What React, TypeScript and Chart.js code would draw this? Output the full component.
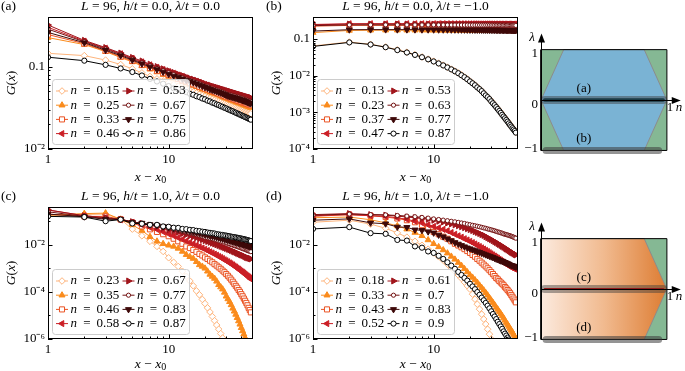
import React, { useEffect, useRef } from 'react';
import { Chart, registerables } from 'chart.js';

Chart.register(...registerables);

const FONT = 'Liberation Serif';

// ---------- data ----------
const XPOS = [1,2,3,4,5,6,7,8,9,10,11,12,13,14,15,16,17,18,19,20,21,22,23,24,25,26,27,28,29,30,31,32,33,34,35,36,37,38,39,40,41,42,43,44,45,46,47,48];

const N_A = [0.15, 0.25, 0.33, 0.46, 0.53, 0.67, 0.75, 0.86];
const N_B = [0.13, 0.23, 0.37, 0.47, 0.53, 0.63, 0.77, 0.87];
const N_C = [0.23, 0.35, 0.46, 0.58, 0.67, 0.77, 0.83, 0.87];
const N_D = [0.18, 0.33, 0.43, 0.52, 0.61, 0.7, 0.83, 0.9];

// panel (a)  h/t = 0, lambda/t = 0
const GA_015 = [0.145,0.136,0.120,0.106,0.094,0.084,0.076,0.071,0.067,0.064,0.061,0.058,0.055,0.053,0.051,0.0495,0.048,0.0463,0.0447,0.0433,0.042,0.041,0.040,0.039,0.0382,0.0374,0.0366,0.0359,0.0352,0.0345,0.0339,0.0333,0.0327,0.0322,0.0317,0.0312,0.0307,0.0302,0.0298,0.0294,0.029,0.0286,0.0283,0.028,0.0277,0.0274,0.0271,0.0268];
const GA_025 = [0.225,0.185,0.152,0.129,0.114,0.102,0.093,0.086,0.080,0.076,0.072,0.069,0.066,0.063,0.061,0.059,0.057,0.055,0.053,0.052,0.0505,0.049,0.048,0.047,0.046,0.045,0.044,0.043,0.042,0.0413,0.0406,0.0399,0.0392,0.0386,0.038,0.0374,0.0368,0.0363,0.0358,0.0353,0.0348,0.0343,0.0338,0.0334,0.033,0.0326,0.0322,0.0318];
const GA_033 = [0.245,0.190,0.155,0.132,0.117,0.105,0.096,0.089,0.083,0.079,0.075,0.071,0.068,0.066,0.063,0.061,0.059,0.057,0.056,0.054,0.053,0.0515,0.0503,0.0492,0.048,0.047,0.046,0.045,0.044,0.0433,0.0426,0.0419,0.0412,0.0406,0.040,0.0394,0.0389,0.0384,0.0379,0.0374,0.0369,0.0364,0.036,0.0356,0.0352,0.0348,0.0344,0.034];
const GA_046 = [0.300,0.204,0.167,0.143,0.126,0.114,0.105,0.098,0.092,0.087,0.083,0.079,0.076,0.073,0.070,0.068,0.066,0.064,0.062,0.060,0.059,0.057,0.056,0.055,0.054,0.053,0.052,0.051,0.050,0.049,0.0485,0.048,0.047,0.0465,0.046,0.0455,0.045,0.0445,0.044,0.0435,0.043,0.0425,0.042,0.0415,0.041,0.0405,0.040,0.0398];
const GA_053 = [0.320,0.208,0.170,0.146,0.129,0.117,0.107,0.100,0.094,0.089,0.085,0.081,0.078,0.075,0.072,0.070,0.068,0.066,0.064,0.062,0.0607,0.0594,0.0582,0.0571,0.056,0.055,0.0541,0.0532,0.0524,0.0516,0.0508,0.0501,0.0494,0.0487,0.0481,0.0475,0.0469,0.0463,0.0458,0.0453,0.0448,0.0443,0.0438,0.0434,0.043,0.0426,0.0422,0.0418];
const GA_067 = [0.285,0.200,0.163,0.140,0.123,0.111,0.102,0.095,0.089,0.084,0.080,0.076,0.073,0.070,0.068,0.066,0.064,0.062,0.060,0.058,0.057,0.055,0.054,0.053,0.052,0.051,0.050,0.049,0.048,0.047,0.046,0.0455,0.045,0.0445,0.044,0.0435,0.043,0.0425,0.042,0.0415,0.041,0.0405,0.040,0.0395,0.039,0.0385,0.038,0.0378];
const GA_075 = [0.260,0.195,0.158,0.136,0.120,0.108,0.099,0.092,0.086,0.081,0.077,0.074,0.071,0.068,0.066,0.064,0.062,0.060,0.058,0.056,0.055,0.053,0.052,0.051,0.050,0.049,0.048,0.047,0.046,0.045,0.044,0.0435,0.043,0.0425,0.042,0.0415,0.041,0.0405,0.040,0.0395,0.039,0.0385,0.038,0.0375,0.037,0.0365,0.036,0.0358];
const GA_086 = [0.130,0.118,0.105,0.095,0.086,0.078,0.071,0.066,0.062,0.058,0.0545,0.053,0.0505,0.049,0.0468,0.0455,0.0437,0.0426,0.041,0.0401,0.0386,0.0378,0.0365,0.0358,0.0347,0.0341,0.0331,0.0325,0.0316,0.0311,0.0303,0.0298,0.0291,0.0287,0.028,0.0276,0.027,0.0266,0.0261,0.0257,0.0252,0.0249,0.0244,0.0241,0.0237,0.0234,0.023,0.0227];

// panel (b)  h/t = 0, lambda/t = -1
const GB_013 = [0.065,0.083,0.072,0.061,0.051,0.0437,0.0376,0.0325,0.0284,0.0249,0.0219,0.0194,0.0171,0.0151,0.0134,0.0119,0.0105,0.0092,0.0081,0.0071,0.0063,0.0056,0.0049,0.00436,0.00386,0.00335,0.00295,0.00264,0.00234,0.00203,0.0018,0.0016,0.00141,0.00125,0.00111,0.00099,0.00087,0.00078,0.0007,0.00063,0.00057,0.00051,0.000457,0.000416,0.000376,0.000345,0.000315,0.000285];
const GB_023 = [0.150,0.172,0.174,0.175,0.1749,0.1746,0.1745,0.1742,0.1741,0.1738,0.1737,0.1735,0.1733,0.1732,0.1729,0.1728,0.1726,0.1725,0.1722,0.1721,0.1719,0.1717,0.1716,0.1713,0.1712,0.171,0.1709,0.1706,0.1705,0.1703,0.1701,0.17,0.1698,0.1696,0.1695,0.1692,0.1691,0.1689,0.1688,0.1685,0.1684,0.1682,0.1681,0.1678,0.1677,0.1675,0.1674,0.1672];
const GB_037 = [0.225,0.236,0.237,0.237,0.2369,0.2366,0.2365,0.2362,0.2361,0.2358,0.2357,0.2354,0.2353,0.235,0.2349,0.2346,0.2345,0.2342,0.2341,0.2338,0.2337,0.2334,0.2333,0.233,0.2329,0.2326,0.2325,0.2322,0.2321,0.2318,0.2317,0.2314,0.2313,0.231,0.2309,0.2306,0.2305,0.2302,0.2301,0.2298,0.2297,0.2294,0.2293,0.229,0.2289,0.2286,0.2285,0.2282];
const GB_047 = [0.250,0.262,0.263,0.263,0.2629,0.2626,0.2625,0.2622,0.2621,0.2618,0.2617,0.2614,0.2613,0.261,0.2609,0.2606,0.2605,0.2602,0.2601,0.2598,0.2597,0.2594,0.2593,0.259,0.2589,0.2586,0.2585,0.2582,0.2581,0.2578,0.2577,0.2574,0.2573,0.257,0.2569,0.2566,0.2565,0.2562,0.2561,0.2558,0.2557,0.2554,0.2553,0.255,0.2549,0.2546,0.2545,0.2542];
const GB_053 = [0.245,0.256,0.257,0.257,0.2569,0.2566,0.2565,0.2562,0.2561,0.2558,0.2557,0.2554,0.2553,0.255,0.2549,0.2546,0.2545,0.2542,0.2541,0.2538,0.2537,0.2534,0.2533,0.253,0.2529,0.2526,0.2525,0.2522,0.2521,0.2518,0.2517,0.2514,0.2513,0.251,0.2509,0.2506,0.2505,0.2502,0.2501,0.2498,0.2497,0.2494,0.2493,0.249,0.2489,0.2486,0.2485,0.2482];
const GB_063 = [0.232,0.243,0.244,0.244,0.2439,0.2436,0.2435,0.2432,0.2431,0.2428,0.2427,0.2424,0.2423,0.242,0.2419,0.2416,0.2415,0.2412,0.2411,0.2408,0.2407,0.2404,0.2403,0.24,0.2399,0.2396,0.2395,0.2392,0.2391,0.2388,0.2387,0.2384,0.2383,0.238,0.2379,0.2376,0.2375,0.2372,0.2371,0.2368,0.2367,0.2364,0.2363,0.236,0.2359,0.2356,0.2355,0.2352];
const GB_077 = [0.165,0.180,0.181,0.181,0.1809,0.1806,0.1805,0.1802,0.1801,0.1798,0.1797,0.1794,0.1793,0.179,0.1789,0.1786,0.1785,0.1782,0.1781,0.1778,0.1777,0.1774,0.1773,0.177,0.1769,0.1766,0.1765,0.1762,0.1761,0.1758,0.1757,0.1754,0.1753,0.175,0.1749,0.1746,0.1745,0.1742,0.1741,0.1738,0.1737,0.1734,0.1733,0.173,0.1729,0.1726,0.1725,0.1722];
const GB_087 = [0.063,0.081,0.071,0.060,0.050,0.043,0.037,0.032,0.028,0.0245,0.0216,0.0191,0.0168,0.0149,0.0132,0.0117,0.0103,0.0091,0.0080,0.0070,0.0062,0.0055,0.0048,0.0043,0.0038,0.0033,0.0029,0.0026,0.0023,0.0020,0.00177,0.00157,0.00139,0.00123,0.00109,0.00097,0.00086,0.00077,0.00069,0.00062,0.00056,0.00050,0.00045,0.00041,0.00037,0.00034,0.00031,0.00028];

// panel (c)  h/t = 1, lambda/t = 0
const GC_023 = [0.17,0.19,0.20,0.12,0.046,0.024,0.014,0.0085,0.0052,0.0028,0.0018,0.0012,0.00075,0.00046,0.00029,0.00018,0.00011,7.5e-5,4.8e-5,3.2e-5,2.1e-5,1.4e-5,9e-6,6e-6,3.9e-6,2.6e-6,1.7e-6,1.1e-6,7.2e-7,4.7e-7,3e-7];
const GC_035 = [0.18,0.21,0.22,0.12,0.07,0.04,0.022,0.014,0.011,0.0095,0.0085,0.007,0.0052,0.0038,0.0031,0.0026,0.0019,0.0014,0.0012,0.001,0.00075,0.00055,0.00045,0.00037,0.00028,0.0002,0.00016,0.00013,9.5e-5,6.5e-5,5e-5,3.8e-5,2.8e-5,2e-5,1.5e-5,1.1e-5,8e-6,5.8e-6,4.2e-6,3e-6,2.2e-6,1.6e-6,1.15e-6,8.3e-7,6e-7,4.3e-7];
const GC_046 = [0.20,0.16,0.16,0.12,0.085,0.06,0.045,0.035,0.028,0.023,0.018,0.014,0.011,0.0085,0.0072,0.006,0.005,0.0041,0.0035,0.0029,0.0025,0.0021,0.0018,0.0015,0.0013,0.0011,0.00095,0.0008,0.00068,0.00057,0.00048,0.0004,0.00033,0.00027,0.00022,0.00018,0.00015,0.00012,0.0001,8e-5,6.5e-5,5.2e-5,4.2e-5,3.4e-5,2.7e-5,2.1e-5,1.7e-5,1.35e-5];
const GC_058 = [0.30,0.17,0.14,0.115,0.09,0.07,0.055,0.045,0.036,0.029,0.024,0.02,0.017,0.0145,0.0125,0.011,0.0095,0.0083,0.0073,0.0064,0.0057,0.005,0.0045,0.004,0.0036,0.0032,0.0029,0.0026,0.0023,0.0021,0.0019,0.0017,0.00155,0.0014,0.00126,0.00114,0.00103,0.00093,0.00084,0.00076,0.00069,0.00063,0.00057,0.00052,0.00047,0.00043,0.00039,0.00035];
const GC_067 = [0.30,0.17,0.14,0.12,0.095,0.08,0.068,0.058,0.05,0.043,0.038,0.034,0.030,0.027,0.024,0.022,0.020,0.018,0.0165,0.015,0.0138,0.0127,0.0117,0.0108,0.010,0.0093,0.0086,0.008,0.0075,0.007,0.0065,0.0061,0.0057,0.0053,0.005,0.0047,0.0044,0.0041,0.0039,0.0037,0.0035,0.0033,0.0031,0.0029,0.0028,0.0027,0.0026,0.0025];
const GC_077 = [0.25,0.16,0.13,0.12,0.092,0.082,0.07,0.064,0.056,0.05,0.045,0.041,0.037,0.034,0.031,0.029,0.027,0.025,0.023,0.021,0.020,0.019,0.018,0.017,0.016,0.015,0.0142,0.0135,0.0128,0.012,0.0114,0.0108,0.0102,0.0097,0.0092,0.0088,0.0084,0.008,0.0076,0.0072,0.0069,0.0066,0.0063,0.006,0.0057,0.0055,0.0053,0.0051];
const GC_083 = [0.20,0.155,0.12,0.12,0.09,0.083,0.072,0.068,0.06,0.055,0.05,0.047,0.043,0.04,0.037,0.035,0.033,0.031,0.029,0.027,0.026,0.0245,0.0232,0.022,0.021,0.020,0.019,0.0182,0.0174,0.0166,0.0158,0.0151,0.0145,0.0139,0.0133,0.0128,0.0123,0.0118,0.0114,0.011,0.0106,0.0102,0.0098,0.0095,0.0092,0.0089,0.0086,0.0083];
const GC_087 = [0.16,0.15,0.10,0.117,0.08,0.078,0.07,0.07,0.06,0.058,0.053,0.052,0.047,0.046,0.043,0.042,0.039,0.038,0.036,0.035,0.033,0.032,0.031,0.030,0.028,0.0275,0.0265,0.026,0.025,0.0245,0.0235,0.023,0.022,0.0215,0.021,0.0205,0.0198,0.0193,0.0187,0.0183,0.0177,0.0173,0.0167,0.0163,0.0157,0.0153,0.0147,0.0143];

// panel (d)  h/t = 1, lambda/t = -1
const GD_018 = [0.09,0.11,0.075,0.05,0.032,0.021,0.014,0.0095,0.0065,0.0045,0.0031,0.0022,0.0015,0.00105,0.00074,0.00052,0.00037,0.00026,0.00018,0.00013,8e-5,4.9e-5,3e-5,1.85e-5,1.13e-5,7e-6,4.3e-6,2.6e-6,1.6e-6,1e-6,6e-7,3.7e-7];
const GD_033 = [0.14,0.15,0.115,0.085,0.063,0.046,0.033,0.024,0.016,0.011,0.0081,0.006,0.0044,0.0032,0.0024,0.00175,0.0013,0.00095,0.0007,0.00052,0.00041,0.00032,0.00025,0.00019,0.00015,0.000118,9.2e-5,7.2e-5,5.6e-5,4.4e-5,3.5e-5,2.8e-5,2.2e-5,1.8e-5,1.45e-5,1.17e-5,9.5e-6,7.7e-6,6.2e-6,5e-6,4.1e-6,3.4e-6,2.8e-6,2.3e-6,1.9e-6,1.55e-6,1.25e-6,1e-6];
const GD_043 = [0.16,0.19,0.17,0.15,0.13,0.11,0.09,0.068,0.05,0.035,0.028,0.022,0.018,0.014,0.011,0.0093,0.0078,0.0065,0.0054,0.0045,0.0037,0.0031,0.0025,0.0021,0.00174,0.00144,0.0012,0.001,0.00083,0.00069,0.00057,0.00047,0.00039,0.00034,0.00029,0.00025,0.00022,0.00019,0.00016,0.00014,0.00012,0.000103,8.8e-5,7.4e-5,6.2e-5,5.2e-5,4.3e-5,3.6e-5];
const GD_052 = [0.17,0.19,0.17,0.16,0.14,0.12,0.10,0.085,0.07,0.06,0.052,0.045,0.039,0.033,0.028,0.024,0.021,0.018,0.016,0.014,0.0123,0.0108,0.0095,0.0084,0.0074,0.0066,0.0058,0.0052,0.0046,0.0041,0.0037,0.0033,0.003,0.0027,0.0024,0.0022,0.002,0.0018,0.0016,0.0015,0.0014,0.0013,0.0012,0.0011,0.00105,0.001,0.00095,0.0009];
const GD_061 = [0.19,0.21,0.19,0.18,0.165,0.15,0.14,0.13,0.12,0.11,0.10,0.092,0.084,0.077,0.07,0.064,0.058,0.053,0.048,0.044,0.04,0.036,0.033,0.03,0.027,0.025,0.022,0.02,0.018,0.0165,0.015,0.0136,0.0124,0.0113,0.0103,0.0094,0.0086,0.0079,0.0072,0.0066,0.0061,0.0056,0.0052,0.0048,0.0045,0.0042,0.0039,0.0037];
const GD_070 = [0.18,0.20,0.19,0.185,0.175,0.165,0.155,0.145,0.135,0.125,0.118,0.111,0.105,0.099,0.094,0.089,0.084,0.08,0.075,0.071,0.067,0.064,0.061,0.058,0.055,0.052,0.05,0.047,0.045,0.043,0.041,0.039,0.037,0.035,0.034,0.032,0.031,0.029,0.028,0.027,0.026,0.025,0.024,0.023,0.022,0.021,0.02,0.019];
const GD_083 = [0.11,0.125,0.085,0.078,0.057,0.055,0.043,0.041,0.036,0.032,0.026,0.022,0.018,0.015,0.0125,0.0108,0.0094,0.0083,0.0074,0.0068,0.0062,0.0057,0.0052,0.0048,0.0044,0.0041,0.0038,0.0035,0.0033,0.0031,0.0029,0.0027,0.0025,0.0024,0.0022,0.0021,0.002,0.0019,0.0018,0.0017,0.0016,0.0015,0.0014,0.00135,0.0013,0.00125,0.0012,0.00115];
const GD_090 = [0.047,0.056,0.031,0.029,0.016,0.015,0.0085,0.0075,0.0052,0.0045,0.0034,0.0025,0.0018,0.0013,0.00095,0.0007,0.00052,0.00039,0.0003,0.00022,0.00017,0.00013,9.8e-5,7.5e-5,5.7e-5,4.4e-5,3.4e-5,2.6e-5,2e-5,1.5e-5,1.15e-5,9e-6,7e-6,5.4e-6,4.3e-6,3.4e-6,2.7e-6,2.1e-6,1.7e-6,1.4e-6,1.15e-6,9.5e-7,8e-7,6.6e-7];

// axis ticks
const X_TICKS = [1, 10];
const X_LABELS = ['1', '10'];
const X_MINOR = [2, 3, 4, 5, 6, 7, 8, 9, 20, 30, 40];
const Y_TICKS_A = [0.01, 0.1];
const Y_LABELS_A = ['10⁻²', '0.1'];
const Y_MINOR_A = [0.02, 0.03, 0.04, 0.05, 0.06, 0.07, 0.08, 0.09, 0.2, 0.3];
const Y_TICKS_B = [1e-4, 1e-3, 1e-2, 0.1];
const Y_LABELS_B = ['10⁻⁴', '10⁻³', '10⁻²', '0.1'];
const Y_MINOR_B = [2e-4, 3e-4, 4e-4, 5e-4, 6e-4, 7e-4, 8e-4, 9e-4, 2e-3, 3e-3, 4e-3, 5e-3, 6e-3, 7e-3, 8e-3, 9e-3, 0.02, 0.03, 0.04, 0.05, 0.06, 0.07, 0.08, 0.09, 0.2, 0.3];
const Y_TICKS_CD = [1e-6, 1e-4, 1e-2];
const Y_LABELS_CD = ['10⁻⁶', '10⁻⁴', '10⁻²'];
const Y_MINOR_CD = [1e-5, 1e-3, 0.1];

// phase diagrams
const HEX_N = [0, 0.18, 0.82, 1];
const HEX_UP = [0, 1, 1, 0];
const HEX_DN = [0, -1, -1, 0];
const ORG_N = [0, 0.82, 1];
const ORG_UP = [1, 1, 0];
const ORG_DN = [-1, -1, 0];
const BOX_N = [0, 1, 1, 0, 0];
const BOX_L = [-1, -1, 1, 1, -1];
const CUT_TOP_N = [0.03, 0.97];
const CUT_LOW_N = [0.04, 0.935];

// ---------- styles ----------
const COLORS = ['#fdb47c', '#fa8b1c', '#ea5222', '#cb1f26', '#a0151b', '#731313', '#3e0909', '#000000'];
const MK_STYLE = ['rectRot', 'triangle', 'rect', 'triangle', 'triangle', 'circle', 'triangle', 'circle'];
const MK_ROT = [0, 0, 0, -90, 90, 0, 180, 0];
const MK_FILL = [false, true, false, true, true, false, true, false];
const MK_R = [3.3, 3.5, 3.6, 3.5, 3.5, 2.1, 3.5, 2.6];

type Seg = [string, number];

function drawRich(ctx: any, segs: Seg[], x: number, y: number, size: number, align: string) {
  const fontFor = (k: number) =>
    k === 1 ? `italic ${size}px "${FONT}"` : k === 2 ? `${Math.round(size * 0.72)}px "${FONT}"` : `${size}px "${FONT}"`;
  let total = 0;
  for (const [t, k] of segs) { ctx.font = fontFor(k); total += ctx.measureText(t).width; }
  let cx = align === 'center' ? x - total / 2 : align === 'right' ? x - total : x;
  ctx.textBaseline = 'middle';
  ctx.textAlign = 'left';
  for (const [t, k] of segs) {
    ctx.font = fontFor(k);
    ctx.fillText(t, cx, k === 2 ? y + size * 0.28 : y);
    cx += ctx.measureText(t).width;
  }
}

function drawMarker(ctx: any, style: string, x: number, y: number, r: number, rotDeg: number, filled: boolean, color: string) {
  ctx.beginPath();
  if (style === 'circle') ctx.arc(x, y, r, 0, Math.PI * 2);
  else if (style === 'rect') { const s = r * Math.SQRT1_2; ctx.rect(x - s, y - s, 2 * s, 2 * s); }
  else if (style === 'rectRot') { ctx.moveTo(x - r, y); ctx.lineTo(x, y - r); ctx.lineTo(x + r, y); ctx.lineTo(x, y + r); ctx.closePath(); }
  else {
    let a = (rotDeg * Math.PI) / 180;
    ctx.moveTo(x + Math.sin(a) * r, y - Math.cos(a) * r);
    a += (2 * Math.PI) / 3;
    ctx.lineTo(x + Math.sin(a) * r, y - Math.cos(a) * r);
    a += (2 * Math.PI) / 3;
    ctx.lineTo(x + Math.sin(a) * r, y - Math.cos(a) * r);
    ctx.closePath();
  }
  ctx.fillStyle = filled ? color : '#ffffff';
  ctx.fill();
  ctx.strokeStyle = color;
  ctx.lineWidth = 1;
  ctx.stroke();
}

function roundRect(ctx: any, x: number, y: number, w: number, h: number, r: number) {
  ctx.beginPath();
  ctx.moveTo(x + r, y);
  ctx.lineTo(x + w - r, y);
  ctx.arcTo(x + w, y, x + w, y + r, r);
  ctx.lineTo(x + w, y + h - r);
  ctx.arcTo(x + w, y + h, x + w - r, y + h, r);
  ctx.lineTo(x + r, y + h);
  ctx.arcTo(x, y + h, x, y + h - r, r);
  ctx.lineTo(x, y + r);
  ctx.arcTo(x, y, x + r, y, r);
  ctx.closePath();
}

type PanelDef = {
  letter: string; hval: string; lval: string; ns: number[]; series: number[][];
  yMin: number; yMax: number; yTicks: number[]; yLabels: string[]; yMinor: number[];
  left: number; top: number; height: number; xAxisH: number; xTitleOff: number;
};

const PANELS: PanelDef[] = [
  { letter: '(a)', hval: '0.0', lval: '0.0', ns: N_A, series: [GA_015, GA_025, GA_033, GA_046, GA_053, GA_067, GA_075, GA_086],
    yMin: 0.01, yMax: 0.4, yTicks: Y_TICKS_A, yLabels: Y_LABELS_A, yMinor: Y_MINOR_A, left: 0, top: 0, height: 186, xAxisH: 37, xTitleOff: 28 },
  { letter: '(b)', hval: '0.0', lval: '−1.0', ns: N_B, series: [GB_013, GB_023, GB_037, GB_047, GB_053, GB_063, GB_077, GB_087],
    yMin: 1e-4, yMax: 0.4, yTicks: Y_TICKS_B, yLabels: Y_LABELS_B, yMinor: Y_MINOR_B, left: 265, top: 0, height: 186, xAxisH: 37, xTitleOff: 28 },
  { letter: '(c)', hval: '1.0', lval: '0.0', ns: N_C, series: [GC_023, GC_035, GC_046, GC_058, GC_067, GC_077, GC_083, GC_087],
    yMin: 1e-6, yMax: 0.4, yTicks: Y_TICKS_CD, yLabels: Y_LABELS_CD, yMinor: Y_MINOR_CD, left: 0, top: 190, height: 181, xAxisH: 32, xTitleOff: 25 },
  { letter: '(d)', hval: '1.0', lval: '−1.0', ns: N_D, series: [GD_018, GD_033, GD_043, GD_052, GD_061, GD_070, GD_083, GD_090],
    yMin: 1e-6, yMax: 0.4, yTicks: Y_TICKS_CD, yLabels: Y_LABELS_CD, yMinor: Y_MINOR_CD, left: 265, top: 190, height: 181, xAxisH: 32, xTitleOff: 25 },
];

function panelConfig(p: PanelDef): any {
  const deco = {
    id: 'panelDeco',
    afterDatasetsDraw(chart: any) {
      const { ctx, chartArea: a } = chart;
      ctx.save();
      const bw = 137, bh = 65;
      const bx = a.left + 4.5, by = a.bottom - 4.5 - bh;
      roundRect(ctx, bx, by, bw, bh, 3);
      ctx.fillStyle = 'rgba(255,255,255,0.82)';
      ctx.fill();
      ctx.strokeStyle = '#cccccc';
      ctx.lineWidth = 1;
      ctx.stroke();
      for (let i = 0; i < 8; i++) {
        const col = Math.floor(i / 4), row = i % 4;
        const cy = by + 11.5 + row * 14.2;
        const mx = bx + (col ? 76 : 9.5);
        const tx = bx + (col ? 84.5 : 18);
        ctx.strokeStyle = COLORS[i];
        ctx.lineWidth = 1;
        ctx.beginPath();
        ctx.moveTo(mx - 6, cy);
        ctx.lineTo(mx + 6, cy);
        ctx.stroke();
        drawMarker(ctx, MK_STYLE[i], mx, cy, MK_R[i], MK_ROT[i], MK_FILL[i], COLORS[i]);
        ctx.fillStyle = '#000';
        drawRich(ctx, [['n', 1]], tx, cy, 13, 'left');
        drawRich(ctx, [['=', 0]], tx + 16.5, cy, 13, 'center');
        drawRich(ctx, [[String(p.ns[i]), 0]], tx + 26, cy, 13, 'left');
      }
      ctx.restore();
    },
    afterDraw(chart: any) {
      const { ctx, chartArea: a, scales } = chart;
      const xs = scales.x, ys = scales.y;
      ctx.save();
      ctx.strokeStyle = '#000';
      ctx.lineWidth = 1;
      ctx.beginPath();
      for (const v of X_TICKS) { const px = Math.round(xs.getPixelForValue(v)) + 0.5; ctx.moveTo(px, a.bottom); ctx.lineTo(px, a.bottom - 4.5); }
      for (const v of X_MINOR) { const px = Math.round(xs.getPixelForValue(v)) + 0.5; ctx.moveTo(px, a.bottom); ctx.lineTo(px, a.bottom - 2.5); }
      for (const v of p.yTicks) { const py = Math.round(ys.getPixelForValue(v)) + 0.5; ctx.moveTo(a.left, py); ctx.lineTo(a.left + 4.5, py); }
      for (const v of p.yMinor) { const py = Math.round(ys.getPixelForValue(v)) + 0.5; ctx.moveTo(a.left, py); ctx.lineTo(a.left + 2.5, py); }
      ctx.stroke();
      ctx.strokeRect(a.left + 0.5, a.top + 0.5, a.right - a.left - 1, a.bottom - a.top - 1);
      ctx.fillStyle = '#000';
      const cx = (a.left + a.right) / 2;
      drawRich(ctx, [['L', 1], [' = 96, ', 0], ['h', 1], ['/', 0], ['t', 1], [' = ' + p.hval + ', ', 0], ['λ', 1], ['/', 0], ['t', 1], [' = ' + p.lval, 0]], cx, a.top - 11, 13.5, 'center');
      drawRich(ctx, [[p.letter, 0]], 1, a.top - 11, 13.5, 'left');
      drawRich(ctx, [['x', 1], [' − ', 0], ['x', 1], ['0', 2]], cx, a.bottom + p.xTitleOff, 13.5, 'center');
      ctx.translate(11, (a.top + a.bottom) / 2);
      ctx.rotate(-Math.PI / 2);
      drawRich(ctx, [['G', 1], ['(', 0], ['x', 1], [')', 0]], 0, 0, 13.5, 'center');
      ctx.restore();
    },
  };

  return {
    type: 'line',
    data: {
      datasets: p.series.map((arr, i) => ({
        data: arr.map((y, j) => ({ x: XPOS[j], y })),
        borderColor: COLORS[i],
        backgroundColor: COLORS[i],
        borderWidth: 1,
        pointStyle: MK_STYLE[i],
        pointRotation: MK_ROT[i],
        pointRadius: MK_R[i],
        pointBackgroundColor: MK_FILL[i] ? COLORS[i] : '#ffffff',
        pointBorderColor: COLORS[i],
        pointBorderWidth: 1,
        tension: 0,
        fill: false,
        clip: 0,
        order: 7 - i,
      })),
    },
    options: {
      responsive: false,
      maintainAspectRatio: false,
      animation: false,
      devicePixelRatio: 1,
      events: [],
      layout: { padding: { left: 0, right: 12, top: 17, bottom: 0 } },
      plugins: { legend: { display: false }, tooltip: { enabled: false }, title: { display: false } },
      scales: {
        x: {
          type: 'logarithmic', min: 1, max: 50,
          afterBuildTicks: (s: any) => { s.ticks = X_TICKS.map((v) => ({ value: v })); },
          afterFit: (s: any) => { s.height = p.xAxisH; },
          ticks: { callback: (_v: any, i: number) => X_LABELS[i], font: { family: FONT, size: 13 }, color: '#000', padding: 3, maxRotation: 0, autoSkip: false },
          grid: { display: false, drawTicks: false },
          border: { display: false },
        },
        y: {
          type: 'logarithmic', min: p.yMin, max: p.yMax,
          afterBuildTicks: (s: any) => { s.ticks = p.yTicks.map((v) => ({ value: v })); },
          afterFit: (s: any) => { s.width = 48; },
          ticks: { callback: (_v: any, i: number) => p.yLabels[i], font: { family: FONT, size: 13 }, color: '#000', padding: 3, autoSkip: false },
          grid: { display: false, drawTicks: false },
          border: { display: false },
        },
      },
    },
    plugins: [deco],
  };
}

const pts = (ns: number[], ls: number[]) => ns.map((n, i) => ({ x: n, y: ls[i] }));

function phaseConfig(bottom: boolean): any {
  const green = '#85b894';
  const blue = '#7ab3d4';
  const orangeGrad = (c: any) => {
    const ch = c.chart;
    if (!ch.chartArea) return '#eeb080';
    const xs = ch.scales.x;
    const g = ch.ctx.createLinearGradient(xs.getPixelForValue(0), 0, xs.getPixelForValue(1), 0);
    g.addColorStop(0, 'rgb(252,234,222)');
    g.addColorStop(0.5, 'rgb(241,186,143)');
    g.addColorStop(1, 'rgb(221,124,50)');
    return g;
  };
  const regionFill = bottom ? orangeGrad : blue;
  const regN = bottom ? ORG_N : HEX_N;
  const regUp = bottom ? ORG_UP : HEX_UP;
  const regDn = bottom ? ORG_DN : HEX_DN;
  const base = { showLine: true, pointRadius: 0, tension: 0, clip: false };
  const datasets: any[] = [
    { ...base, data: pts([0, 1], [1, 1]), fill: { value: -1 }, backgroundColor: green, borderColor: 'rgba(0,0,0,0)', borderWidth: 1, order: 10 },
    { ...base, data: pts(regN, regUp), fill: { value: 0 }, backgroundColor: regionFill, borderColor: '#8c8c8c', borderWidth: 1, order: 9 },
    { ...base, data: pts(regN, regDn), fill: { value: 0 }, backgroundColor: regionFill, borderColor: '#8c8c8c', borderWidth: 1, order: 9 },
    { ...base, data: pts(BOX_N, BOX_L), fill: false, borderColor: '#000', borderWidth: 1, order: 7 },
    { ...base, data: pts(CUT_LOW_N, [-1, -1]), fill: false, borderColor: 'rgba(60,60,60,0.55)', borderWidth: 7, borderCapStyle: 'round', order: 6 },
    { ...base, data: pts(CUT_TOP_N, [0, 0]), fill: false, borderColor: 'rgba(60,60,60,0.45)', borderWidth: 8, borderCapStyle: 'round', order: 5 },
    { ...base, data: pts(CUT_TOP_N, [0, 0]), fill: false, borderColor: bottom ? '#941c1c' : '#1b3b45', borderWidth: bottom ? 2 : 3.5, borderCapStyle: 'round', order: 4 },
  ];
  const deco = {
    id: 'phaseDeco',
    afterDraw(chart: any) {
      const { ctx, scales } = chart;
      const X = (v: number) => scales.x.getPixelForValue(v);
      const Y = (v: number) => scales.y.getPixelForValue(v);
      ctx.save();
      ctx.strokeStyle = '#000';
      ctx.fillStyle = '#000';
      ctx.lineWidth = 1;
      const x0 = Math.round(X(0)) + 0.5;
      const y0 = Math.round(Y(0)) + 0.5;
      const tipY = Y(1.32);
      const tipX = X(1.11);
      ctx.beginPath();
      ctx.moveTo(x0, Y(-1));
      ctx.lineTo(x0, tipY + 6);
      ctx.moveTo(X(0), y0);
      ctx.lineTo(tipX - 6, y0);
      ctx.stroke();
      ctx.beginPath();
      ctx.moveTo(x0, tipY); ctx.lineTo(x0 - 3.5, tipY + 9); ctx.lineTo(x0 + 3.5, tipY + 9); ctx.closePath();
      ctx.fill();
      ctx.beginPath();
      ctx.moveTo(tipX, y0); ctx.lineTo(tipX - 9, y0 - 3.5); ctx.lineTo(tipX - 9, y0 + 3.5); ctx.closePath();
      ctx.fill();
      drawRich(ctx, [['λ', 1]], X(0) - 9, tipY + 4, 13, 'center');
      drawRich(ctx, [['1', 0]], X(0) - 3, Y(1) + 4, 13, 'right');
      drawRich(ctx, [['0', 0]], X(0) - 3, Y(0) + 5, 13, 'right');
      drawRich(ctx, [['−1', 0]], X(0) - 3, Y(-1) - 2, 13, 'right');
      drawRich(ctx, [['1', 0]], X(1) + 3, Y(0) + 8, 13, 'center');
      drawRich(ctx, [['n', 1]], X(1) + 12, Y(0) + 8, 13, 'center');
      drawRich(ctx, [[bottom ? '(c)' : '(a)', 0]], X(0.34), Y(0.22), 13, 'center');
      drawRich(ctx, [[bottom ? '(d)' : '(b)', 0]], X(0.34), Y(-0.77), 13, 'center');
      ctx.restore();
    },
  };
  return {
    type: 'scatter',
    data: { datasets },
    options: {
      responsive: false,
      maintainAspectRatio: false,
      animation: false,
      devicePixelRatio: 1,
      events: [],
      layout: { padding: { left: 26, right: 3, top: bottom ? 6 : 7, bottom: bottom ? 8 : 7 } },
      plugins: { legend: { display: false }, tooltip: { enabled: false } },
      scales: {
        x: { type: 'linear', min: 0, max: 1.12, display: false },
        y: { type: 'linear', min: -1.15, max: 1.35, display: false },
      },
    },
    plugins: [deco],
  };
}

function ChartCanvas({ make, left, top, width, height }: any) {
  const ref = useRef<HTMLCanvasElement | null>(null);
  useEffect(() => {
    const chart = new Chart(ref.current as HTMLCanvasElement, make());
    return () => chart.destroy();
  }, []);
  return (
    <canvas ref={ref} width={width} height={height}
      style={{ position: 'absolute', left, top, width, height }} />
  );
}

export default function App() {
  return (
    <div style={{ position: 'fixed', left: 0, top: 0, width: 685, height: 371, background: '#ffffff', overflow: 'hidden' }}>
      {PANELS.map((p, i) => (
        <ChartCanvas key={i} make={() => panelConfig(p)} left={p.left} top={p.top} width={265} height={p.height} />
      ))}
      <ChartCanvas make={() => phaseConfig(false)} left={515} top={25} width={170} height={140} />
      <ChartCanvas make={() => phaseConfig(true)} left={515} top={215} width={170} height={140} />
    </div>
  );
}
